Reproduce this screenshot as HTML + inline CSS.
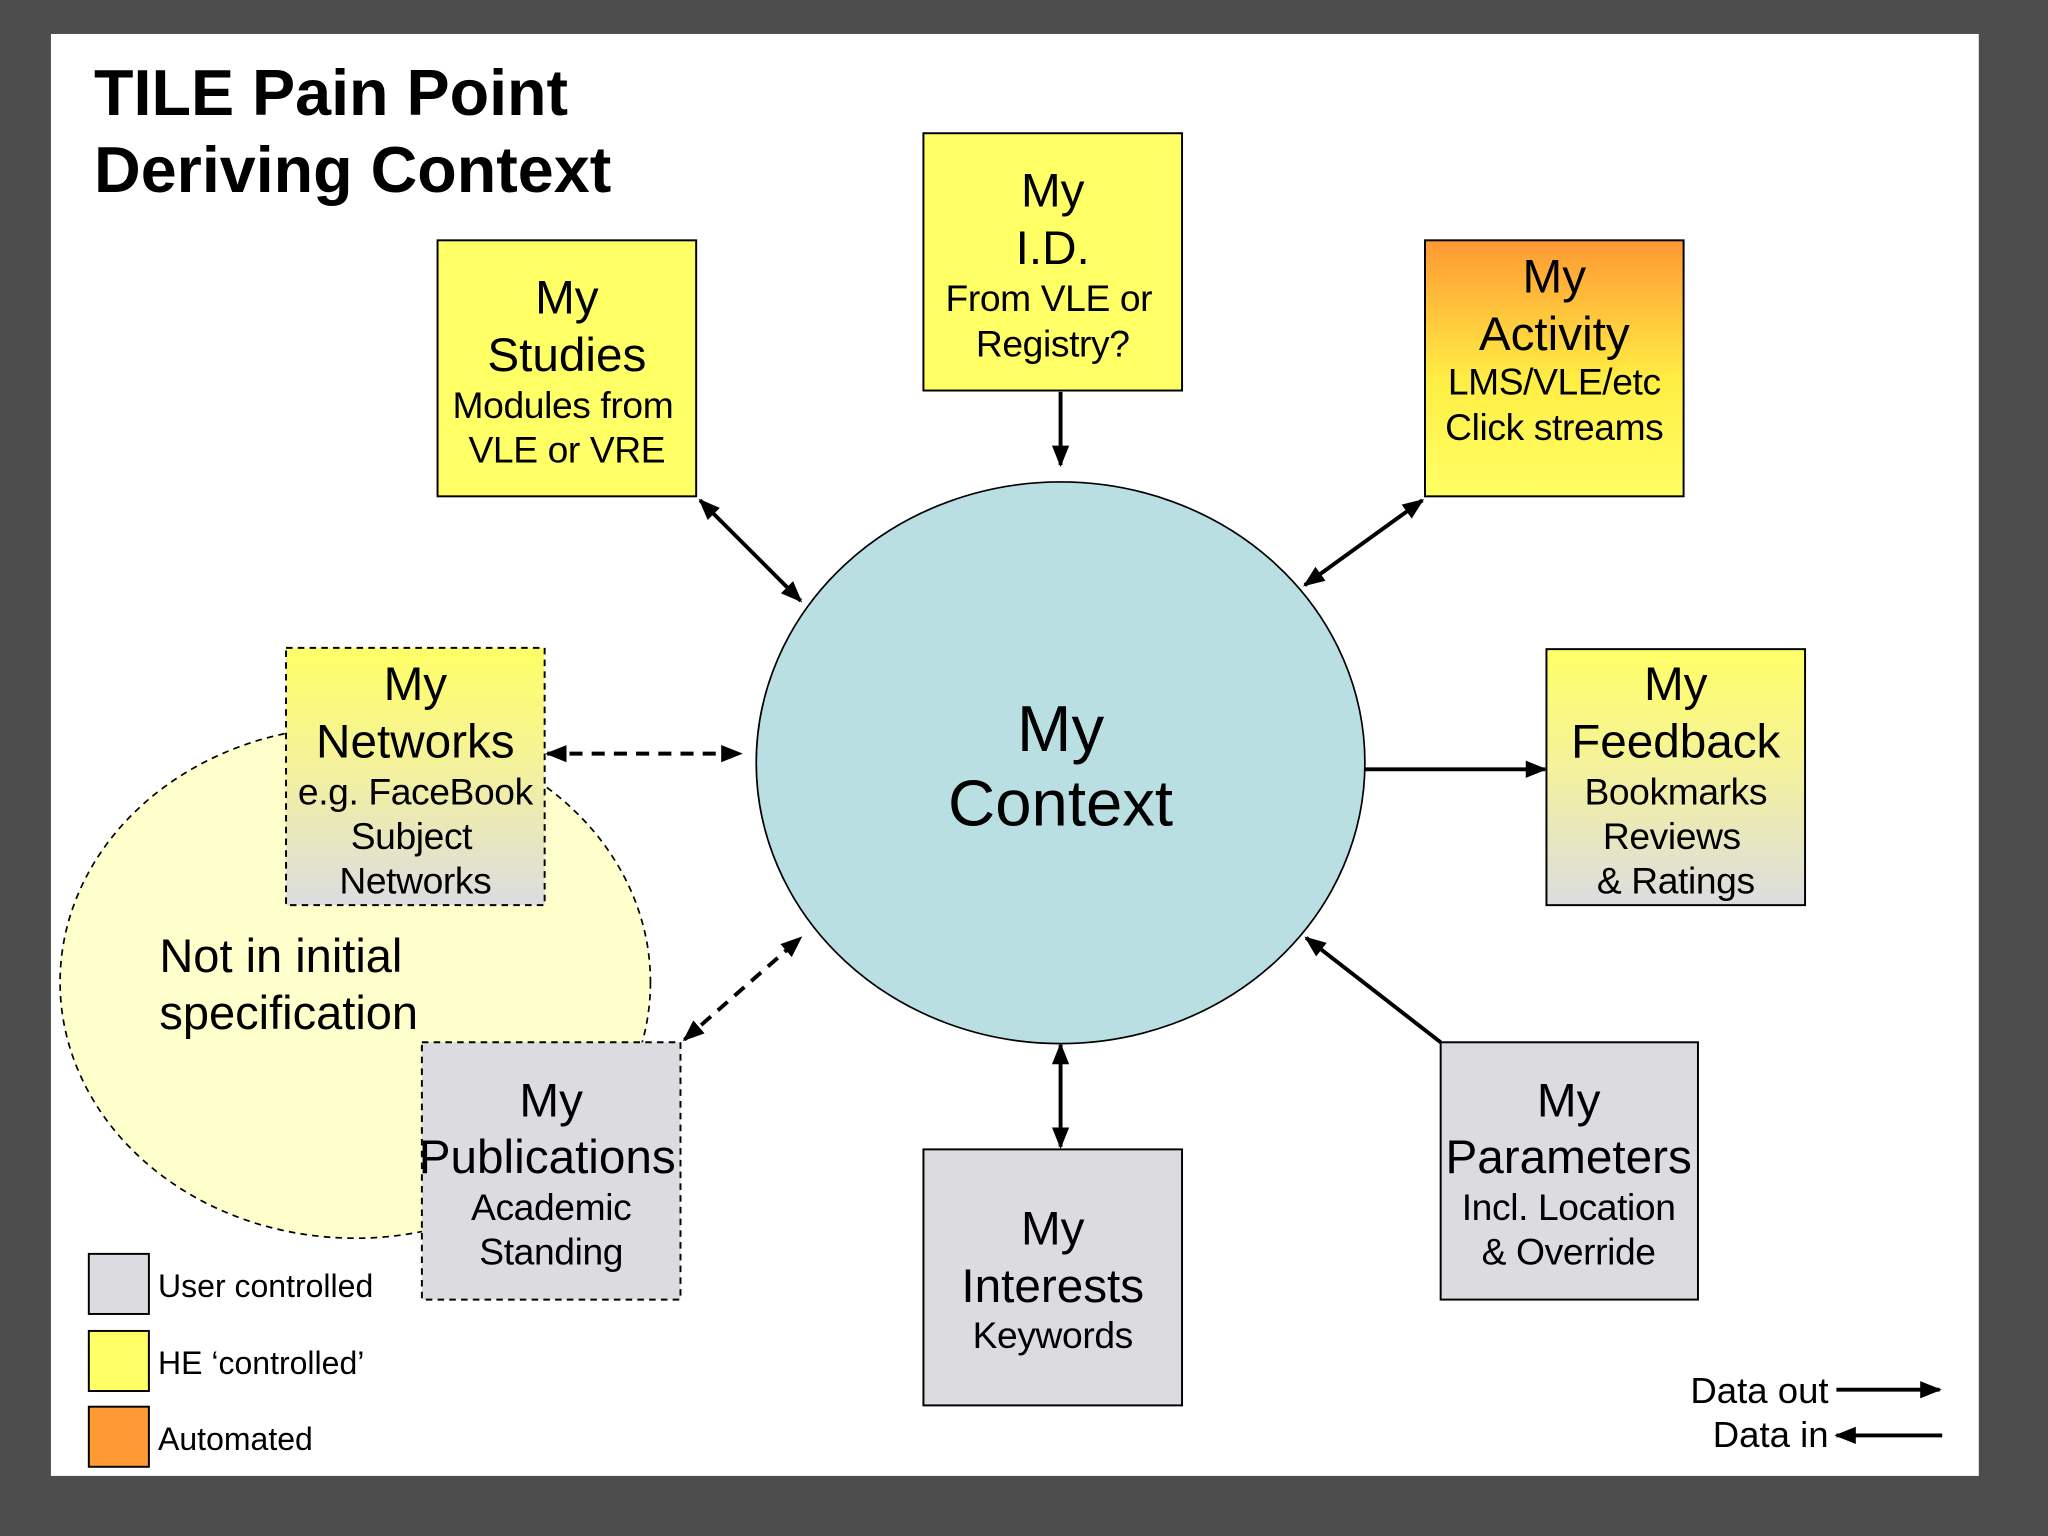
<!DOCTYPE html>
<html><head><meta charset="utf-8"><style>
html,body{margin:0;padding:0;background:#4d4d4d;}
svg{display:block;}
text{font-family:"Liberation Sans",Arial,sans-serif;fill:#000;}
</style></head><body>
<svg width="2048" height="1536" viewBox="0 0 1568 1176" xmlns="http://www.w3.org/2000/svg">
<defs>
<linearGradient id="gAct" x1="0" y1="0" x2="0" y2="1"><stop offset="0" stop-color="#ff9933"/><stop offset="0.55" stop-color="#ffee44"/><stop offset="1" stop-color="#ffff66"/></linearGradient>
<linearGradient id="gFb" x1="0" y1="0" x2="0" y2="1"><stop offset="0" stop-color="#ffff66"/><stop offset="0.45" stop-color="#f4f29a"/><stop offset="1" stop-color="#dcdce0"/></linearGradient>
<marker id="ah" viewBox="0 0 10 10" refX="9" refY="5" markerWidth="5.5" markerHeight="5.5" orient="auto-start-reverse"><path d="M0,1 L10,5 L0,9 Z" fill="#000"/></marker>
</defs>
<rect x="0" y="0" width="1568" height="1176" fill="#4d4d4d"/>
<rect x="39" y="26" width="1476" height="1104" fill="#fff"/>
<text x="72" y="88" font-size="49.5" font-weight="bold">TILE Pain Point</text>
<text x="72" y="147" font-size="49.5" font-weight="bold">Deriving Context</text>

<ellipse cx="272" cy="752" rx="226" ry="196" fill="#ffffcc" stroke="#000" stroke-width="1.3" stroke-dasharray="5,4"/>
<text x="122" y="744" font-size="36">Not in initial</text>
<text x="122" y="788" font-size="36">specification</text>

<ellipse cx="812" cy="584" rx="233" ry="215" fill="#b9dfe3" stroke="#000" stroke-width="1.3"/>
<text x="812" y="575" font-size="50" text-anchor="middle">My</text>
<text x="812" y="632" font-size="50" text-anchor="middle">Context</text>

<g stroke="#000" stroke-width="3" fill="none">
<line x1="812" y1="300" x2="812" y2="356" marker-end="url(#ah)"/>
<line x1="536" y1="383" x2="613" y2="460" marker-start="url(#ah)" marker-end="url(#ah)"/>
<line x1="1089" y1="383" x2="999" y2="448" marker-start="url(#ah)" marker-end="url(#ah)"/>
<line x1="1045" y1="589" x2="1183" y2="589" marker-end="url(#ah)"/>
<line x1="1103" y1="798" x2="1000" y2="718" marker-end="url(#ah)"/>
<line x1="812" y1="800" x2="812" y2="878" marker-start="url(#ah)" marker-end="url(#ah)"/>
<line x1="419" y1="577" x2="567" y2="577" stroke-dasharray="10,7" marker-start="url(#ah)" marker-end="url(#ah)"/>
<line x1="524" y1="796" x2="613" y2="718" stroke-dasharray="10,7" marker-start="url(#ah)" marker-end="url(#ah)"/>
<line x1="1406" y1="1064" x2="1485" y2="1064" marker-end="url(#ah)"/>
<line x1="1406" y1="1099" x2="1487" y2="1099" marker-start="url(#ah)"/>
</g>

<g stroke="#000" stroke-width="1.5">
<rect x="335" y="184" width="198" height="196" fill="#ffff66"/>
<rect x="707" y="102" width="198" height="197" fill="#ffff66"/>
<rect x="1091" y="184" width="198" height="196" fill="url(#gAct)"/>
<rect x="1184" y="497" width="198" height="196" fill="url(#gFb)"/>
<rect x="219" y="496" width="198" height="197" fill="url(#gFb)" stroke-dasharray="5,4"/>
<rect x="323" y="798" width="198" height="197" fill="#dcdce0" stroke-dasharray="5,4"/>
<rect x="707" y="880" width="198" height="196" fill="#dcdce0"/>
<rect x="1103" y="798" width="197" height="197" fill="#dcdce0"/>
<rect x="68" y="960" width="46" height="46" fill="#dcdce0"/>
<rect x="68" y="1019" width="46" height="46" fill="#ffff66"/>
<rect x="68" y="1077" width="46" height="46" fill="#ff9933"/>
</g>

<g text-anchor="middle">
<g font-size="36.5">
<text x="434" y="240">My</text><text x="434" y="284">Studies</text>
<text x="806" y="158">My</text><text x="806" y="202">I.D.</text>
<text x="1190" y="224">My</text><text x="1190" y="268">Activity</text>
<text x="1283" y="536">My</text><text x="1283" y="580">Feedback</text>
<text x="318" y="536">My</text><text x="318" y="580">Networks</text>
<text x="422" y="855">My</text><text x="419" y="898">Publications</text>
<text x="806" y="953">My</text><text x="806" y="997">Interests</text>
<text x="1201" y="855">My</text><text x="1201" y="898">Parameters</text>
</g>
<g font-size="28.5" letter-spacing="-0.3">
<text x="431" y="320">Modules from</text><text x="434" y="354">VLE or VRE</text>
<text x="803" y="238">From VLE or</text><text x="806" y="273">Registry?</text>
<text x="1190" y="302">LMS/VLE/etc</text><text x="1190" y="337">Click streams</text>
<text x="1283" y="616">Bookmarks</text><text x="1280" y="650">Reviews</text><text x="1283" y="684">&amp; Ratings</text>
<text x="318" y="616">e.g. FaceBook</text><text x="315" y="650">Subject</text><text x="318" y="684">Networks</text>
<text x="422" y="934">Academic</text><text x="422" y="968">Standing</text>
<text x="806" y="1032">Keywords</text>
<text x="1201" y="934">Incl. Location</text><text x="1201" y="968">&amp; Override</text>
</g>
</g>

<text x="121" y="993" font-size="24.5">User controlled</text>
<text x="121" y="1052" font-size="24.5">HE ‘controlled’</text>
<text x="121" y="1110" font-size="24.5">Automated</text>
<text x="1400" y="1074" font-size="28" text-anchor="end">Data out</text>
<text x="1400" y="1108" font-size="28" text-anchor="end">Data in</text>
</svg>
</body></html>
